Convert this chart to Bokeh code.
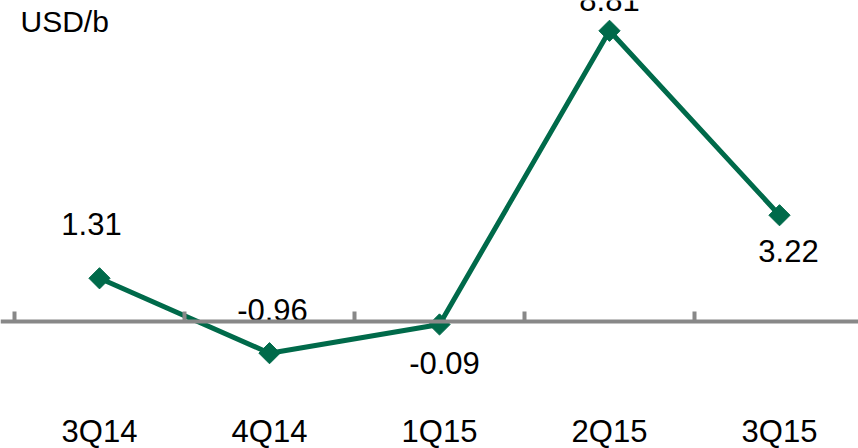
from bokeh.plotting import figure
from bokeh.models import Range1d, LinearAxis, FixedTicker, ColumnDataSource, Label
from bokeh.core.properties import value
from bokeh.embed import file_html
from bokeh.resources import INLINE

# Quarterly values, USD per barrel
quarters = ["3Q14", "4Q14", "1Q15", "2Q15", "3Q15"]
values = [1.31, -0.96, -0.09, 8.81, 3.22]
unit_label = "USD/b"

# Pixel offsets for the value labels (x right, y down)
label_dx = [-8, 3, 5, 0, 9]
label_dy = [-54, -43, 39, -31, 36]

GREEN = "#006A4A"
GREY = "#888888"
FONT = "Liberation Sans"

xs = list(range(len(quarters)))
src = ColumnDataSource(dict(
    x=xs, y=values,
    txt=[f"{v:.2f}" for v in values],
    dx=label_dx, dy=label_dy,
))

p = figure(width=858, height=448, output_backend="svg", toolbar_location=None,
           x_axis_location=None, y_axis_location=None, min_border=0,
           outline_line_color=None, background_fill_color="white",
           border_fill_color="white")
p.x_range = Range1d(-0.5 - 14 / 170, -0.5 + 844 / 170)
p.y_range = Range1d(-127 / 33, 321 / 33)
p.grid.visible = False

# Zero line with upward ticks at the boundaries between quarters
zero_axis = LinearAxis(fixed_location=0,
                       ticker=FixedTicker(ticks=[i - 0.5 for i in range(len(quarters) + 1)]),
                       axis_line_color=GREY, axis_line_width=4,
                       major_tick_line_color=GREY, major_tick_line_width=4,
                       major_tick_in=10, major_tick_out=0,
                       minor_tick_line_color=None,
                       major_label_text_font_size="0px",
                       major_label_text_color=None)
p.add_layout(zero_axis, "below")

# Quarter names along the bottom
cat_axis = LinearAxis(fixed_location=0,
                      ticker=FixedTicker(ticks=xs),
                      major_label_overrides={i: q for i, q in enumerate(quarters)},
                      axis_line_color=None, major_tick_line_color=None,
                      minor_tick_line_color=None,
                      major_tick_in=0, major_tick_out=0,
                      major_label_standoff=92,
                      major_label_text_font=FONT,
                      major_label_text_font_size="31px",
                      major_label_text_color="black")
p.add_layout(cat_axis, "below")

p.line("x", "y", source=src, line_color=GREEN, line_width=5)
p.scatter("x", "y", source=src, marker="square", size=15, angle=0.785398,
          fill_color=GREEN, line_color=GREEN)

p.text("x", "y", text="txt", source=src, x_offset="dx", y_offset="dy",
       text_align="center", text_baseline="middle",
       text_font=value(FONT), text_font_size="31px", text_color="black")

# Unit caption in the top-left corner
p.add_layout(Label(x=20, y=448 - 21, x_units="screen", y_units="screen", text=unit_label,
                   text_font=FONT, text_font_size="30px", text_color="black",
                   text_baseline="middle"))

open("out.html", "w").write(file_html(p, INLINE))
